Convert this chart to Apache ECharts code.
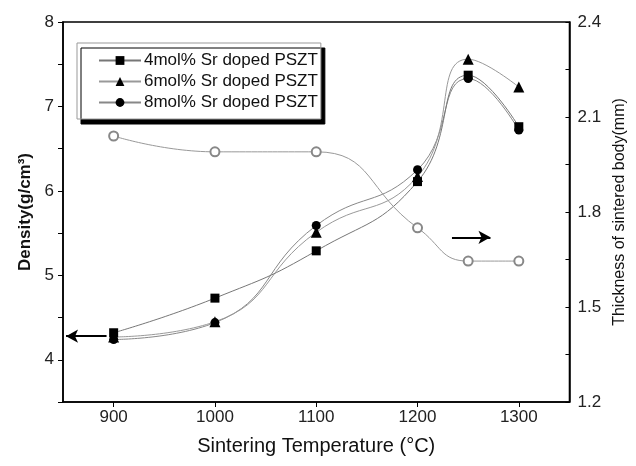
<!DOCTYPE html>
<html>
<head>
<meta charset="utf-8">
<script src="https://cdn.jsdelivr.net/npm/echarts@6/dist/echarts.min.js"></script>
<style>html,body{margin:0;padding:0;background:#fff}#c{width:636px;height:466px}</style>
</head>
<body>
<div id="c"></div>
<script>
var temps = [900, 1000, 1100, 1200, 1250, 1300];
var density4 = [4.32, 4.73, 5.29, 6.11, 7.37, 6.76];
var density6 = [4.27, 4.45, 5.51, 6.17, 7.56, 7.23];
var density8 = [4.24, 4.44, 5.59, 6.25, 7.33, 6.72];
var thickness = [2.04, 1.99, 1.99, 1.75, 1.645, 1.645];
var names = ['4mol% Sr doped PSZT', '6mol% Sr doped PSZT', '8mol% Sr doped PSZT'];
var xTicks = [900, 1000, 1100, 1200, 1300];
var leftLabels = [4, 5, 6, 7, 8];
var leftTicks = [3.5, 4, 4.5, 5, 5.5, 6, 6.5, 7, 7.5, 8];
var rightLabels = [1.2, 1.5, 1.8, 2.1, 2.4];
var rightTicks = [1.2, 1.35, 1.5, 1.65, 1.8, 1.95, 2.1, 2.25, 2.4];
var leftArrow = [[893, 4.28], [853, 4.28]];
var rightArrow = [[1234, 1.72], [1272, 1.72]];

function pts(ys) { return temps.map(function (t, i) { return [t, ys[i]]; }); }
var FONT = "'Liberation Sans', Arial, sans-serif";
var chart = echarts.init(document.getElementById('c'), null, {renderer: 'canvas'});
chart.setOption({
  animation: false,
  backgroundColor: '#fff',
  textStyle: {fontFamily: FONT},
  grid: {left: 63, right: 66, top: 22, bottom: 64, show: true, borderColor: '#000', borderWidth: 1.5},
  legend: {
    data: names,
    orient: 'vertical',
    left: 77, top: 43,
    itemWidth: 42, itemHeight: 11, itemGap: 4,
    padding: [9, 3, 8, 21],
    backgroundColor: '#fff',
    borderColor: '#999', borderWidth: 1,
    shadowColor: '#000', shadowOffsetX: 4, shadowOffsetY: 5, shadowBlur: 0,
    textStyle: {fontSize: 17, color: '#111', fontFamily: FONT, padding: [0, 0, 0, -2]}
  },
  xAxis: {
    type: 'value', min: 850, max: 1350,
    name: 'Sintering Temperature (°C)', nameLocation: 'middle', nameGap: 34,
    nameTextStyle: {fontSize: 20, color: '#111'},
    axisLine: {lineStyle: {color: '#000', width: 1.5}},
    axisTick: {customValues: xTicks, length: 5, lineStyle: {color: '#000'}},
    axisLabel: {customValues: xTicks, fontSize: 17, color: '#222', margin: 7,
      formatter: function (v) { return String(v); }},
    splitLine: {show: false}
  },
  yAxis: [{
    type: 'value', min: 3.5, max: 8, position: 'left',
    name: 'Density(g/cm³)', nameLocation: 'middle', nameGap: 27,
    nameTextStyle: {fontSize: 17, fontWeight: 'bold', color: '#111'},
    axisLine: {show: true, lineStyle: {color: '#000', width: 1.5}},
    axisTick: {customValues: leftTicks, length: 5, lineStyle: {color: '#000'}},
    axisLabel: {customValues: leftLabels, fontSize: 17, color: '#222', margin: 9},
    splitLine: {show: false}
  }, {
    type: 'value', min: 1.2, max: 2.4, position: 'right',
    name: 'Thickness of sintered body(mm)', nameLocation: 'middle', nameGap: 40, nameRotate: 90,
    nameTextStyle: {fontSize: 16, color: '#111'},
    axisLine: {show: true, lineStyle: {color: '#000', width: 1.5}},
    axisTick: {customValues: rightTicks, inside: true, length: 4, lineStyle: {color: '#000'}},
    axisLabel: {customValues: rightLabels, fontSize: 17, color: '#222', margin: 8},
    splitLine: {show: false}
  }],
  series: [{
    name: names[2], type: 'line', smooth: 0.5, data: pts(density8),
    symbol: 'circle', symbolSize: 9,
    itemStyle: {color: '#000'}, lineStyle: {color: '#888', width: 1}
  }, {
    name: names[1], type: 'line', smooth: 0.5, data: pts(density6),
    symbol: 'triangle', symbolSize: 11,
    itemStyle: {color: '#000'}, lineStyle: {color: '#999', width: 1}
  }, {
    name: names[0], type: 'line', smooth: 0.5, data: pts(density4),
    symbol: 'rect', symbolSize: 9,
    itemStyle: {color: '#000'}, lineStyle: {color: '#777', width: 1},
    markLine: {
      silent: true, symbol: ['none', 'arrow'], symbolSize: [10, 12],
      label: {show: false},
      lineStyle: {color: '#000', width: 2, type: 'solid'},
      data: [[{coord: leftArrow[0]}, {coord: leftArrow[1]}]]
    }
  }, {
    name: 'thickness', type: 'line', smooth: 0.5, yAxisIndex: 1, data: pts(thickness),
    symbol: 'emptyCircle', symbolSize: 9,
    itemStyle: {color: '#888', borderWidth: 1}, lineStyle: {color: '#999', width: 1},
    markLine: {
      silent: true, symbol: ['none', 'arrow'], symbolSize: [10, 12],
      label: {show: false},
      lineStyle: {color: '#000', width: 2, type: 'solid'},
      data: [[{coord: rightArrow[0]}, {coord: rightArrow[1]}]]
    }
  }]
});
</script>
</body>
</html>
